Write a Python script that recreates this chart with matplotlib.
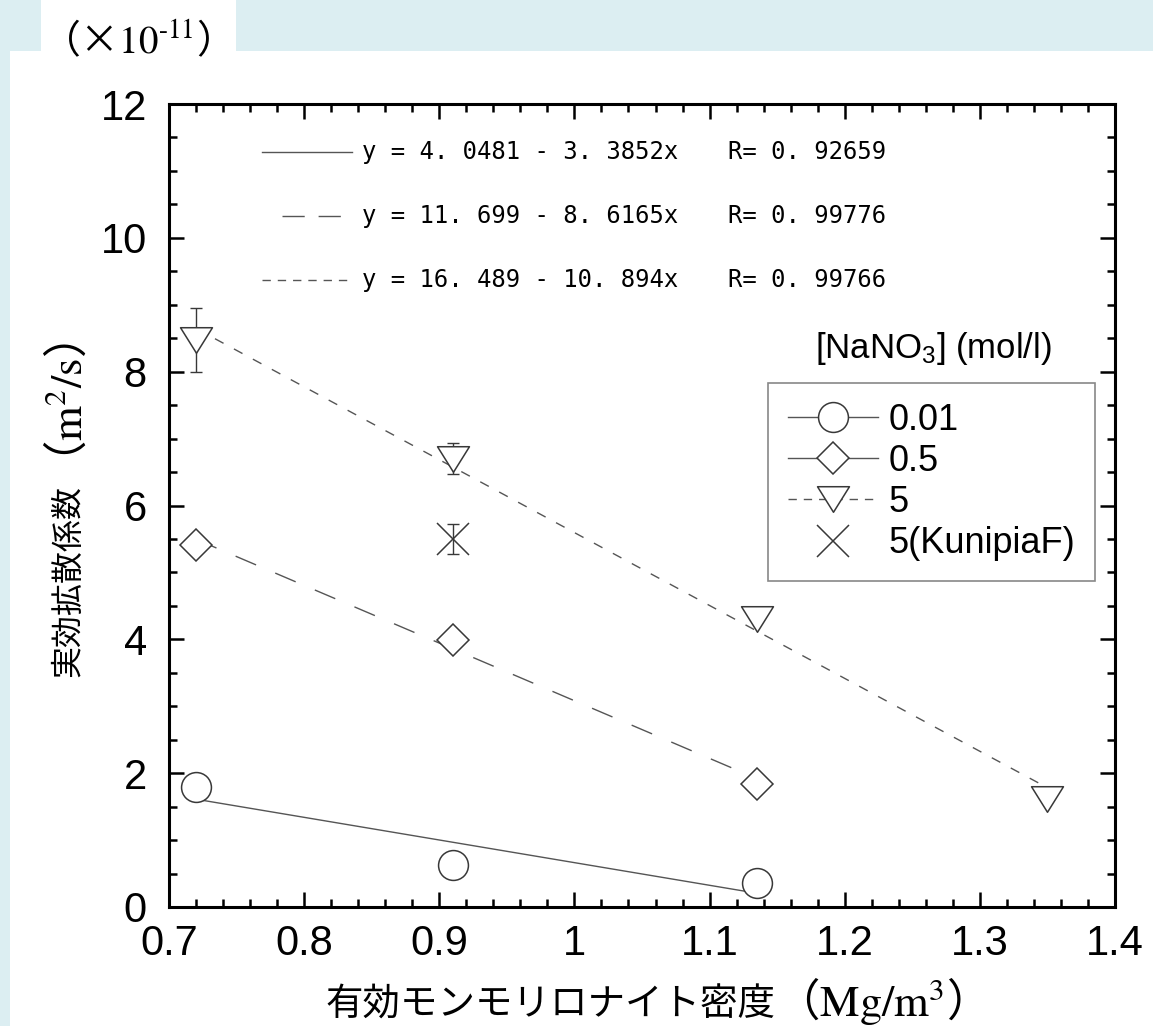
import matplotlib
matplotlib.use("Agg")
import matplotlib.pyplot as plt
from matplotlib.lines import Line2D
from matplotlib.patches import Rectangle
from matplotlib.path import Path
from matplotlib.ticker import MultipleLocator, FuncFormatter

plt.rcParams['mathtext.fontset'] = 'stix'

# values: x in Mg/m3, y in 1e-11 m2/s
x_001 = [0.72, 0.91, 1.135]
y_001 = [1.79, 0.63, 0.36]

x_05 = [0.72, 0.91, 1.135]
y_05 = [5.41, 3.99, 1.84]

x_5 = [0.72, 0.91, 1.135, 1.35]
y_5 = [8.47, 6.70, 4.30, 1.61]
err_5 = [0.48, 0.23, 0.0, 0.0]

x_kf = [0.91]
y_kf = [5.50]
err_kf = [0.22]

# linear fits printed on the chart (y = a - b x)
fit_a = [4.0481, 11.699, 16.489]
fit_b = [3.3852, 8.6165, 10.894]
fit_r = [0.92659, 0.99776, 0.99766]
fit_xmin = [0.72, 0.72, 0.72]
fit_xmax = [1.135, 1.135, 1.35]

legend_labels = ["0.01", "0.5", "5", "5(KunipiaF)"]

W, H = 1153, 1026
BG = '#DCEEF2'
MK = '#383838'
LN = '#555555'
JP = 'Noto Sans CJK JP'
SANS = 'Liberation Sans'

# origin-style down triangle (wider than tall)
tri = Path([(-1, 0.8), (1, 0.8), (0, -0.8), (-1, 0.8)], closed=True)

fit_styles = [
    dict(ls='-'),
    dict(ls=(0, (16, 15))),
    dict(ls=(0, (7, 8.5))),
]


def fx(px):
    return px / W


def fy(py):
    return 1 - py / H


def spaced(v):
    # the chart's font puts a gap after the decimal point
    return str(v).replace('.', '. ')


fig = plt.figure(figsize=(W / 100, H / 100), dpi=100)
fig.patch.set_facecolor(BG)
fig.add_artist(Rectangle((fx(10), 0), 1 - fx(10), fy(51), transform=fig.transFigure,
                         facecolor='white', edgecolor='none', zorder=-5))
fig.add_artist(Rectangle((fx(41), fy(51)), fx(236) - fx(41), 1 - fy(51), transform=fig.transFigure,
                         facecolor='white', edgecolor='none', zorder=-5))

ax = fig.add_axes([fx(169), fy(907), fx(1115) - fx(169), fy(104) - fy(907)])

# fit lines
for a, b, x0, x1, st in zip(fit_a, fit_b, fit_xmin, fit_xmax, fit_styles):
    ax.plot([x0, x1], [a - b * x0, a - b * x1], color=LN, lw=1.0, zorder=2, **st)

# error bars
ax.errorbar(x_5, y_5, yerr=err_5, fmt='none', ecolor=MK, elinewidth=1.0,
            capsize=4.3, capthick=1.0, zorder=3)
ax.errorbar(x_kf, y_kf, yerr=err_kf, fmt='none', ecolor=MK, elinewidth=1.0,
            capsize=4.3, capthick=1.0, zorder=3)

mk = dict(ls='none', mfc='white', mec=MK, mew=1.1, zorder=4)
ax.plot(x_001, y_001, marker='o', ms=21.5, **mk)
ax.plot(x_05, y_05, marker='D', ms=15.8, **mk)
ax.plot(x_5, y_5, marker=tri, ms=23, **mk)
ax.plot(x_kf, y_kf, marker='x', ms=23, ls='none', mec=MK, mew=1.1, zorder=4)

ax.set_xlim(0.7, 1.4)
ax.set_ylim(0, 12)
ax.xaxis.set_major_locator(MultipleLocator(0.1))
ax.xaxis.set_minor_locator(MultipleLocator(0.02))
ax.yaxis.set_major_locator(MultipleLocator(2))
ax.yaxis.set_minor_locator(MultipleLocator(0.5))
ax.xaxis.set_major_formatter(FuncFormatter(lambda v, p: '%g' % round(v, 2)))
ax.yaxis.set_major_formatter(FuncFormatter(lambda v, p: '%g' % v))

ax.tick_params(which='both', direction='in', top=True, right=True, width=1.8, colors='black')
ax.tick_params(which='major', length=10.5)
ax.tick_params(which='minor', length=5.5)
ax.tick_params(axis='x', which='major', pad=12)
ax.tick_params(axis='y', which='major', pad=16)
for lab in ax.get_xticklabels() + ax.get_yticklabels():
    lab.set_family(SANS)
    lab.set_fontsize(30)
for sp in ax.spines.values():
    sp.set_linewidth(2.2)

# fit equations
rows_y = [0.940, 0.8605, 0.781]
samp_x = [(0.0983, 0.1934), (0.1195, 0.191), (0.0983, 0.1934)]
samp_st = [dict(ls='-'), dict(ls=(0, (16, 10))), dict(ls=(0, (6, 5)))]
for a, b, r, yy, (s0, s1), st in zip(fit_a, fit_b, fit_r, rows_y, samp_x, samp_st):
    ax.add_line(Line2D([s0, s1], [yy, yy], transform=ax.transAxes, color=LN, lw=1.0, **st))
    ax.text(0.204, yy, "y = %s - %sx" % (spaced(a), spaced(b)), transform=ax.transAxes,
            ha='left', va='center', family='DejaVu Sans Mono', fontsize=17.2, color='black')
    ax.text(0.591, yy, "R= %s" % spaced(r), transform=ax.transAxes,
            ha='left', va='center', family='DejaVu Sans Mono', fontsize=17.2, color='black')

# legend
handles = [
    Line2D([], [], color=LN, lw=1.0, marker='o', ms=21.5, mfc='white', mec=MK, mew=1.1),
    Line2D([], [], color=LN, lw=1.0, marker='D', ms=15.8, mfc='white', mec=MK, mew=1.1),
    Line2D([], [], color=LN, lw=1.0, ls=(0, (6, 5)), marker=tri, ms=23, mfc='white', mec=MK, mew=1.1),
    Line2D([], [], ls='none', marker='x', ms=23, mec=MK, mew=1.1),
]
leg = ax.legend(handles, legend_labels, loc='upper left', bbox_to_anchor=(0.633, 0.6526),
                borderaxespad=0, frameon=True, fancybox=False, framealpha=1,
                edgecolor='#888888', prop={'family': SANS, 'size': 26},
                handlelength=2.5, handletextpad=0.3, labelspacing=0.17, borderpad=0.55)
leg.get_frame().set_linewidth(1.2)
ax.text(0.8076, 0.696, r"[NaNO$\mathregular{_3}$] (mol/l)", transform=ax.transAxes,
        ha='center', va='center', family=SANS, fontsize=25)

# axis labels (gothic text + serif units)
ylab = fig.text(fx(68), fy(677), "実効拡散係数", rotation=90, ha='center', va='bottom',
                family=JP, fontsize=23)
ax.annotate(r"（$\mathrm{m^2/s}$）", xy=(0.5, 1), xycoords=ylab, ha='center', va='bottom',
            rotation=90, family=JP, fontsize=32)

xlab = fig.text(fx(325), fy(1016), "有効モンモリロナイト密度", ha='left', va='baseline',
                family=JP, fontsize=27)
ax.annotate(r"（$\mathrm{Mg/m^3}$）", xy=(1, fy(1016)), xycoords=(xlab, 'figure fraction'),
            ha='left', va='baseline', family=JP, fontsize=32)

fig.text(fx(41), fy(53), r"（×$\mathrm{10^{\text{-}11}}$）", ha='left', va='baseline',
         family=JP, fontsize=28)

fig.savefig('out.png', dpi=100, facecolor=fig.get_facecolor())
